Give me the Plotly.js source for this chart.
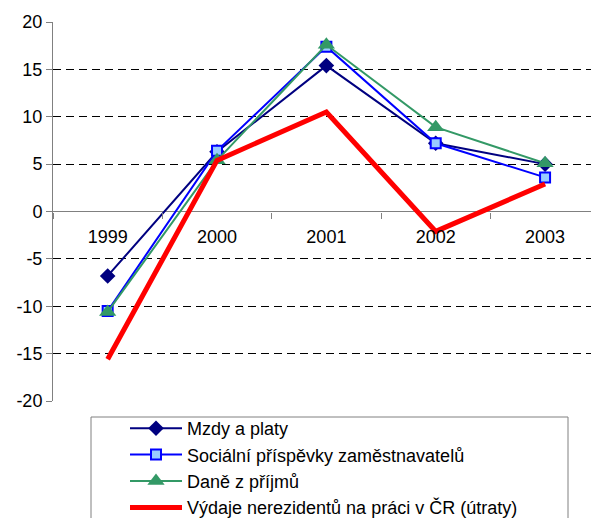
<!DOCTYPE html>
<html><head><meta charset="utf-8">
<script src="https://cdn.plot.ly/plotly-3.0.1.min.js"></script>
<style>html,body{margin:0;padding:0;background:#fff}#c{width:591px;height:518px}</style>
</head><body><div id="c"></div>
<script>
const years = ['1999','2000','2001','2002','2003'];
const mzdy = [-6.8, 6.3, 15.4, 7.2, 5.0];
const socialni = [-10.5, 6.4, 17.4, 7.2, 3.6];
const dane = [-10.6, 5.4, 17.6, 8.9, 5.1];
const vydaje = [-15.6, 5.4, 10.5, -2.1, 2.9];
const names = ['Mzdy a platy','Sociální příspěvky zaměstnavatelů','Daně z příjmů','Výdaje nerezidentů na práci v ČR (útraty)'];
const yTicks = [-20,-15,-10,-5,0,5,10,15,20];

const traces = [
  {x: years, y: mzdy, name: names[0], mode: 'lines+markers',
   line: {color: '#000080', width: 2}, marker: {symbol: 'diamond', size: 12, color: '#000080'}},
  {x: years, y: socialni, name: names[1], mode: 'lines+markers',
   line: {color: '#0000FF', width: 2}, marker: {symbol: 'square', size: 10, color: '#99CCFF', line: {color: '#0000FF', width: 2}}},
  {x: years, y: dane, name: names[2], mode: 'lines+markers',
   line: {color: '#339966', width: 2}, marker: {symbol: 'triangle-up', size: 15, color: '#339966'}},
  {x: years, y: vydaje, name: names[3], mode: 'lines',
   line: {color: '#FF0000', width: 5}}
];

const layout = {
  width: 591, height: 518,
  margin: {l: 53, r: 0, t: 22, b: 117, autoexpand: false},
  paper_bgcolor: '#fff', plot_bgcolor: '#fff',
  font: {family: 'Arial, "Liberation Sans", sans-serif', size: 18, color: '#000'},
  showlegend: true,
  xaxis: {
    type: 'category', range: [-0.5, 4.42], anchor: 'free', position: 0.5,
    showline: false, showgrid: false, zeroline: false,
    ticks: 'outside', tickson: 'boundaries', ticklen: 6, tickcolor: '#808080',
    ticklabelstandoff: 12, tickfont: {size: 18}
  },
  yaxis: {
    range: [-20, 20], tickvals: yTicks, ticktext: yTicks.map(String),
    showline: true, linecolor: '#808080', linewidth: 1,
    ticks: 'outside', ticklen: 6, tickcolor: '#808080',
    showgrid: true, gridcolor: '#000', gridwidth: 1, griddash: '8px,5px',
    zeroline: true, zerolinecolor: '#808080', zerolinewidth: 1,
    tickfont: {size: 18}
  },
  legend: {
    x: (125 - 53) / 538, xanchor: 'left', y: -(410 - 401) / 379, yanchor: 'top',
    bgcolor: 'rgba(0,0,0,0)', borderwidth: 0, itemwidth: 52,
    font: {size: 18}, tracegroupgap: 0
  },
  shapes: [{
    type: 'rect', xref: 'paper', yref: 'paper',
    x0: (91 - 53) / 538, x1: (568 - 53) / 538,
    y0: -0.5, y1: -(417 - 401) / 379,
    line: {color: '#808080', width: 1}, fillcolor: 'rgba(0,0,0,0)', layer: 'below'
  }]
};

Plotly.newPlot('c', traces, layout, {displayModeBar: false, staticPlot: true});
</script>
</body></html>
